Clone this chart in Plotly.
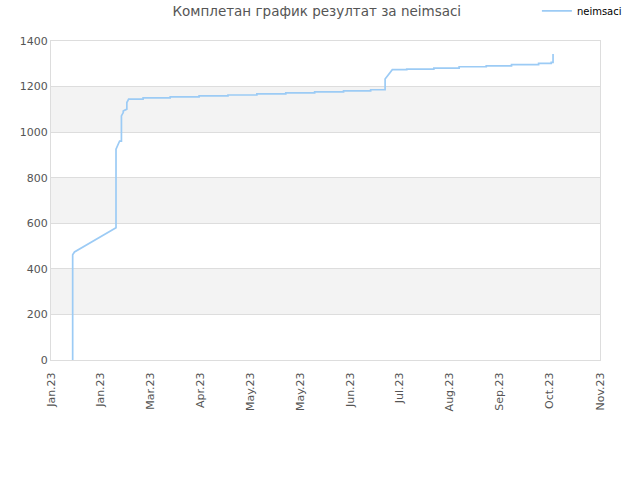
import plotly.graph_objects as go

# score history of neimsaci
dates = [
    "2023-01-13", "2023-01-13", "2023-01-14", "2023-02-06", "2023-02-06",
    "2023-02-07", "2023-02-08", "2023-02-09", "2023-02-09", "2023-02-10",
    "2023-02-10", "2023-02-12", "2023-02-12", "2023-02-13", "2023-02-21",
    "2023-02-21", "2023-03-08", "2023-03-08", "2023-03-24", "2023-03-24",
    "2023-04-09", "2023-04-09", "2023-04-25", "2023-04-25", "2023-05-11",
    "2023-05-11", "2023-05-27", "2023-05-27", "2023-06-12", "2023-06-12",
    "2023-06-27", "2023-06-27", "2023-07-05", "2023-07-05", "2023-07-06",
    "2023-07-07", "2023-07-08", "2023-07-09", "2023-07-17", "2023-07-17",
    "2023-08-01", "2023-08-01", "2023-08-15", "2023-08-15", "2023-08-30",
    "2023-08-30", "2023-09-13", "2023-09-13", "2023-09-28", "2023-09-28",
    "2023-10-05", "2023-10-05", "2023-10-06", "2023-10-06",
]
scores = [
    0, 462, 474, 580, 925,
    947, 961, 961, 1071, 1086,
    1093, 1101, 1130, 1145, 1145,
    1150, 1150, 1155, 1155, 1159,
    1159, 1163, 1163, 1168, 1168,
    1172, 1172, 1177, 1177, 1181,
    1181, 1186, 1186, 1233, 1243,
    1250, 1259, 1274, 1274, 1277,
    1277, 1281, 1281, 1287, 1287,
    1291, 1291, 1296, 1296, 1302,
    1302, 1306, 1306, 1343,
]

tick_dates = [
    "2023-01-01", "2023-01-28 14:00", "2023-02-25 05:00", "2023-03-24 19:00",
    "2023-04-21 10:00", "2023-05-19", "2023-06-15 14:00", "2023-07-13 05:00",
    "2023-08-09 19:00", "2023-09-06 10:00", "2023-10-04", "2023-11-01",
]
tick_labels = [
    "Jan.23", "Jan.23", "Mar.23", "Apr.23", "May.23", "May.23",
    "Jun.23", "Jul.23", "Aug.23", "Sep.23", "Oct.23", "Nov.23",
]
y_ticks = [0, 200, 400, 600, 800, 1000, 1200, 1400]

fig = go.Figure()
fig.add_trace(go.Scatter(
    x=dates,
    y=scores,
    mode="lines",
    line=dict(color="#9ccbf5", width=1.7),
    name="neimsaci",
))

# alternating grey bands
shapes = []
for i in range(len(y_ticks) - 1):
    if i % 2 == 1:
        shapes.append(dict(
            type="rect", xref="paper", yref="y", x0=0, x1=1,
            y0=y_ticks[i], y1=y_ticks[i + 1],
            fillcolor="#f3f3f3", line=dict(width=0), layer="below",
        ))

fig.update_layout(
    width=640,
    height=480,
    paper_bgcolor="white",
    plot_bgcolor="white",
    font=dict(family="DejaVu Sans", size=11, color="#555555"),
    title=dict(
        text="Комплетан график резултат за neimsaci",
        x=0.495, xanchor="center", y=0.977, yanchor="middle",
        font=dict(family="DejaVu Sans", size=13.5, color="#555555"),
    ),
    margin=dict(l=51, r=40, t=41, b=120, autoexpand=False),
    shapes=shapes,
    showlegend=True,
    legend=dict(
        x=1.049, xanchor="right", y=1.14, yanchor="top",
        font=dict(family="DejaVu Sans", size=10, color="#000000"),
        bgcolor="rgba(0,0,0,0)",
        itemwidth=30,
    ),
    xaxis=dict(
        type="date",
        range=[tick_dates[0], tick_dates[-1]],
        tickmode="array",
        tickvals=tick_dates,
        ticktext=tick_labels,
        tickangle=-90,
        ticklabelstandoff=7,
        showgrid=False,
        showline=True,
        linecolor="#dddddd",
        mirror=True,
        zeroline=False,
        ticks="",
    ),
    yaxis=dict(
        range=[0, 1400],
        tickmode="array",
        tickvals=y_ticks,
        showgrid=True,
        gridcolor="#dddddd",
        showline=True,
        linecolor="#dddddd",
        mirror=True,
        zeroline=False,
        ticks="",
    ),
)

# drop the page's default body margin so the figure sits at the top-left corner
fig.write_html(
    "out.html",
    config={"displayModeBar": False},
    post_script="document.body.style.margin='0';",
)
